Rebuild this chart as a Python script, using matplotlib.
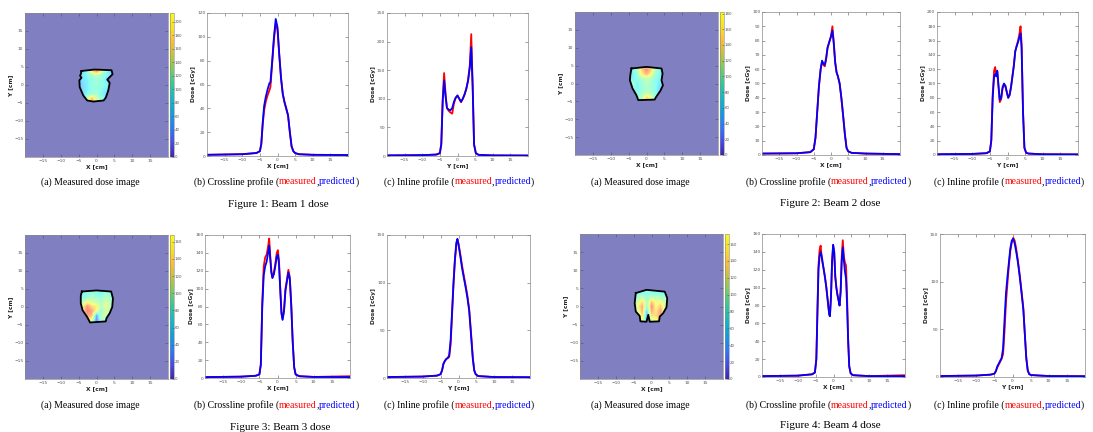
import numpy as np
import matplotlib
matplotlib.use("Agg")
import matplotlib.pyplot as plt
from matplotlib.colors import LinearSegmentedColormap, Normalize
from matplotlib.cm import ScalarMappable
from matplotlib.patches import Polygon

W, H = 1093, 432
RED = "#ff0000"; BLUE = "#0000ff"; BG = "#7f7fc2"; SPINE = "#8a8a8a"
XTICKS = [-15, -10, -5, 0, 5, 10, 15]

# ---- beam 1 -------------------------------------------------------------
B1_CROSS_X = [-20, -10, -6, -5, -4.6, -4.2, -3.8, -3.3, -2.8, -2.3, -2.0, -1.5, -1.0, -0.5, 0.0, 0.5, 1.0, 1.5, 2.0, 2.5, 3.0, 3.5, 4.0, 4.5, 5, 6, 10, 20]
B1_CROSS_PRED = [1, 1.5, 2.5, 4, 10, 28, 42, 50, 56, 61, 62, 80, 100, 115, 108, 85, 65, 52, 45, 40, 34, 20, 8, 4, 2.5, 1.5, 1, 0.8]
B1_CROSS_MEAS = [1, 1.5, 2.5, 4, 10, 26, 38, 46, 51, 55, 58, 78, 98, 111, 106, 85, 66, 52, 45, 39, 34, 20, 8, 4, 2.5, 1.5, 1, 0.8]
B1_IN_X = [-20, -10, -6, -5, -4.6, -4.2, -3.8, -3.4, -3.0, -2.5, -2.0, -1.5, -1.0, -0.5, 0.0, 0.5, 1.0, 1.5, 2.0, 2.5, 3.0, 3.5, 3.9, 4.3, 4.7, 5.2, 6, 10, 20]
B1_IN_PRED = [1, 1.5, 2.5, 5, 20, 95, 132, 105, 84, 81, 80, 84, 95, 102, 106, 100, 95, 100, 108, 118, 132, 155, 190, 120, 20, 5, 2, 1, 0.8]
B1_IN_MEAS = [1, 1.5, 2.5, 5, 22, 100, 145, 110, 84, 79, 76, 74, 92, 102, 105, 100, 94, 100, 107, 117, 132, 160, 213, 125, 20, 5, 2, 1, 0.8]
B1_FIELD_X = [-4.2, -0.5, 4.2, 4.5, 3.0, 3.7, 3.3, 2.6, 2.0, -0.9, -2.6, -3.7, -4.7, -4.8, -4.2, -4.6, -4.4]
B1_FIELD_Y = [3.9, 4.3, 4.1, 3.0, 1.5, 0.6, -1.5, -3.5, -4.3, -4.6, -4.3, -2.9, -0.6, 1.3, 2.0, 2.6, 3.0]
B1_DOSE = [[55, 60, 80, 150, 190, 150, 80, 60, 55],
           [55, 65, 85, 150, 185, 140, 85, 65, 55],
           [55, 70, 80, 95, 110, 95, 80, 70, 55],
           [50, 70, 75, 85, 90, 85, 75, 70, 55],
           [50, 65, 75, 85, 95, 85, 80, 70, 50],
           [50, 65, 75, 85, 90, 80, 75, 65, 50],
           [50, 65, 80, 90, 95, 80, 70, 60, 50],
           [50, 60, 110, 165, 120, 90, 70, 55, 50],
           [45, 60, 120, 175, 120, 90, 65, 55, 45]]
B1_VMAX = 213

# ---- beam 2 -------------------------------------------------------------
B2_CROSS_X = [-20, -10, -6, -5, -4.5, -4, -3.5, -3, -2.6, -2.2, -1.8, -1.4, -1.0, -0.5, 0.0, 0.4, 0.8, 1.2, 1.6, 2.0, 2.5, 3.0, 3.5, 4.0, 4.5, 5, 6, 10, 20]
B2_CROSS_PRED = [1, 1.2, 2, 4, 12, 30, 48, 60, 66, 64, 63, 68, 75, 79, 83, 87, 78, 65, 58, 55, 50, 40, 28, 15, 5, 2.5, 1.5, 1, 0.6]
B2_CROSS_MEAS = [1, 1.2, 2, 4, 12, 30, 48, 60, 65, 63, 62, 67, 75, 79, 83, 90, 79, 65, 58, 55, 50, 40, 28, 15, 5, 2.5, 1.5, 1, 0.6]
B2_IN_X = [-20, -10, -6, -5, -4.6, -4.2, -3.8, -3.5, -3.2, -2.9, -2.6, -2.2, -1.8, -1.4, -1.0, -0.6, -0.2, 0.2, 0.6, 1.0, 1.4, 1.8, 2.2, 2.6, 3.0, 3.4, 3.7, 4.0, 4.4, 4.8, 5.3, 6, 10, 20]
B2_IN_PRED = [1, 1.5, 2.5, 5, 20, 80, 110, 113, 110, 118, 100, 77, 80, 95, 100, 97, 88, 80, 84, 95, 110, 125, 145, 152, 158, 165, 170, 150, 60, 10, 3, 2, 1, 0.8]
B2_IN_MEAS = [1, 1.5, 2.5, 5, 20, 85, 118, 123, 112, 116, 98, 74, 78, 93, 98, 96, 88, 80, 84, 95, 110, 125, 145, 153, 160, 170, 180, 155, 62, 10, 3, 2, 1, 0.8]
B2_FIELD_X = [-4.2, 0.0, 4.2, 4.5, 4.2, 4.6, 3.9, 2.6, 2.3, -2.3, -2.8, -3.9, -4.65, -4.5]
B2_FIELD_Y = [4.2, 4.65, 4.2, 2.8, 0.9, -0.5, -2.0, -3.9, -4.5, -4.65, -3.3, -1.4, 0.9, 2.6]
B2_DOSE = [[55, 60, 75, 110, 135, 110, 75, 60, 55],
           [55, 65, 85, 135, 160, 135, 85, 65, 55],
           [55, 65, 80, 120, 140, 115, 80, 65, 55],
           [55, 65, 70, 85, 95, 85, 70, 65, 55],
           [60, 85, 65, 75, 90, 80, 70, 60, 55],
           [55, 70, 65, 75, 85, 80, 70, 55, 50],
           [50, 60, 70, 80, 90, 85, 70, 55, 50],
           [45, 55, 70, 90, 130, 110, 70, 55, 45],
           [45, 55, 70, 90, 140, 110, 65, 50, 45]]
B2_VMAX = 182

# ---- beam 3 -------------------------------------------------------------
B3_CROSS_X = [-20, -10, -6, -5, -4.6, -4.2, -3.8, -3.4, -3.0, -2.6, -2.3, -2.0, -1.7, -1.4, -1.0, -0.6, -0.2, 0.1, 0.4, 0.8, 1.1, 1.4, 1.8, 2.2, 2.6, 3.0, 3.4, 3.8, 4.2, 4.6, 5.0, 6, 10, 20]
B3_CROSS_PRED = [1, 1.5, 2.5, 4, 15, 80, 115, 125, 130, 140, 148, 133, 118, 112, 116, 125, 136, 138, 128, 95, 72, 65, 75, 98, 108, 118, 110, 80, 40, 12, 4, 2, 1.2, 1]
B3_CROSS_MEAS = [1, 1.5, 2.5, 4, 15, 85, 125, 135, 138, 147, 156, 137, 120, 112, 118, 128, 140, 143, 132, 97, 73, 66, 76, 100, 110, 121, 113, 82, 40, 12, 4, 2, 1.2, 2]
B3_IN_X = [-20, -10, -6, -5, -4.6, -4.2, -3.8, -3.4, -3.0, -2.6, -2.2, -1.8, -1.4, -1.0, -0.6, -0.3, 0.0, 0.5, 1.0, 1.5, 2.0, 2.5, 3.0, 3.5, 4.0, 4.4, 4.8, 5.5, 10, 20]
B3_IN_PRED = [1, 1.5, 2.5, 4, 8, 15, 18, 20, 21, 24, 40, 70, 100, 125, 142, 146, 140, 128, 115, 105, 95, 84, 70, 45, 20, 8, 4, 2, 1, 0.8]
B3_IN_MEAS = [1, 1.5, 2.5, 4, 8, 15, 18, 20, 21, 22, 35, 66, 98, 123, 140, 145, 141, 130, 118, 107, 97, 86, 72, 48, 22, 8, 4, 2, 1, 0.8]
B3_FIELD_X = [-4.1, 0.0, 4.1, 4.6, 4.4, 3.7, 2.8, 2.6, -1.8, -2.6, -3.9, -4.4, -4.4]
B3_FIELD_Y = [4.3, 4.6, 4.3, 2.4, 0.0, -1.7, -3.1, -4.0, -4.3, -2.8, -0.9, 1.1, 3.1]
B3_DOSE = [[55, 60, 65, 65, 60, 60, 65, 60, 55],
           [55, 60, 65, 70, 65, 60, 70, 65, 55],
           [55, 65, 75, 80, 75, 70, 85, 75, 55],
           [55, 85, 105, 95, 90, 75, 95, 85, 55],
           [55, 110, 145, 120, 115, 80, 100, 90, 55],
           [55, 120, 150, 140, 105, 70, 95, 85, 55],
           [55, 105, 140, 130, 35, 85, 90, 80, 55],
           [50, 85, 120, 100, 25, 80, 75, 65, 50],
           [45, 75, 100, 80, 25, 65, 65, 55, 45]]
B3_VMAX = 168

# ---- beam 4 -------------------------------------------------------------
B4_CROSS_X = [-20, -10, -6, -5.2, -4.8, -4.5, -4.2, -3.9, -3.6, -3.2, -2.8, -2.4, -2.0, -1.6, -1.2, -1.0, -0.7, -0.4, -0.1, 0.2, 0.5, 0.8, 1.1, 1.4, 1.7, 2.0, 2.3, 2.6, 2.9, 3.2, 3.5, 3.8, 4.1, 4.4, 4.8, 5.5, 10, 20]
B4_CROSS_PRED = [1, 1.5, 3, 5, 20, 70, 120, 135, 140, 133, 122, 112, 100, 85, 70, 68, 90, 130, 148, 140, 112, 100, 92, 86, 80, 95, 130, 145, 130, 118, 110, 80, 40, 12, 4, 2, 1, 1]
B4_CROSS_MEAS = [1, 1.5, 3, 5, 20, 75, 125, 142, 147, 130, 122, 112, 100, 85, 70, 68, 90, 128, 147, 140, 112, 100, 92, 86, 80, 97, 135, 153, 135, 128, 125, 90, 42, 12, 4, 2, 1, 2]
B4_IN_X = [-20, -10, -6, -5, -4.6, -4.2, -3.8, -3.4, -3.0, -2.6, -2.2, -1.8, -1.4, -1.0, -0.6, -0.2, 0.2, 0.6, 1.0, 1.5, 2.0, 2.5, 3.0, 3.4, 3.8, 4.2, 4.6, 5.2, 10, 20]
B4_IN_PRED = [1, 1.5, 2.5, 3.5, 6, 11, 14, 17, 20, 30, 60, 88, 105, 120, 135, 143, 145, 140, 132, 120, 105, 88, 70, 45, 20, 7, 3, 2, 1, 0.8]
B4_IN_MEAS = [1, 1.5, 2.5, 3.5, 6, 10, 13, 16, 19, 24, 48, 78, 98, 117, 132, 141, 146, 143, 135, 122, 107, 90, 72, 45, 20, 7, 3, 2, 1, 0.8]
B4_FIELD_X = [-4.4, -1.4, 3.7, 4.4, 4.2, 3.3, 2.3, 2.1, -0.5, -0.9, -1.4, -3.1, -3.3, -4.4, -4.7]
B4_FIELD_Y = [3.7, 4.6, 4.1, 2.3, -0.2, -1.8, -2.8, -4.1, -4.2, -2.3, -4.2, -4.1, -2.6, -1.4, 0.9]
B4_DOSE = [[55, 58, 58, 62, 62, 62, 58, 58, 55],
           [55, 62, 66, 66, 66, 66, 62, 62, 55],
           [55, 80, 90, 75, 85, 90, 80, 75, 55],
           [55, 100, 120, 80, 130, 105, 110, 90, 55],
           [55, 110, 140, 70, 150, 110, 130, 95, 55],
           [55, 100, 135, 50, 140, 115, 145, 100, 55],
           [50, 90, 120, 35, 120, 125, 145, 95, 50],
           [45, 80, 110, 35, 100, 105, 120, 80, 45],
           [45, 70, 95, 35, 90, 95, 100, 70, 45]]
B4_VMAX = 172

GRID_X = [-5, -3.75, -2.5, -1.25, 0, 1.25, 2.5, 3.75, 5]
GRID_Y = [5, 3.75, 2.5, 1.25, 0, -1.25, -2.5, -3.75, -5]   # dose rows run top -> bottom

PARULA = LinearSegmentedColormap.from_list("parula", [
    (0.24, 0.15, 0.66), (0.28, 0.30, 0.93), (0.17, 0.48, 0.99), (0.05, 0.62, 0.88),
    (0.07, 0.72, 0.78), (0.20, 0.78, 0.60), (0.45, 0.80, 0.40), (0.75, 0.76, 0.25),
    (0.98, 0.74, 0.22), (0.97, 0.88, 0.15), (0.98, 0.98, 0.08)])
# jet drawn at half opacity over white
_jet = plt.get_cmap("jet")(np.linspace(0, 1, 256))
_jet[:, :3] = 0.5 * _jet[:, :3] + 0.5
JET_LIGHT = LinearSegmentedColormap.from_list("jet_light", _jet)

plt.rcParams.update({"font.family": "DejaVu Sans", "axes.linewidth": 0.5})
fig = plt.figure(figsize=(W / 100, H / 100), dpi=100)


def box(l, r, t, b):
    return [l / W, 1 - b / H, (r - l) / W, (b - t) / H]


def style(ax, xlabel, ylabel):
    ax.tick_params(direction="in", length=2, width=0.4, labelsize=3.2, colors="#555555",
                   top=True, right=True, pad=1.2)
    for s in ax.spines.values():
        s.set_color(SPINE); s.set_linewidth(0.5)
    ax.set_xlabel(xlabel, fontsize=4.2, fontweight="bold", labelpad=0.8, color="#222222")
    ax.set_ylabel(ylabel, fontsize=4.2, fontweight="bold", labelpad=1.0, color="#222222")


def dose_image(rect, cbrect, dose, fx, fy, vmax):
    ax = fig.add_axes(box(*rect))
    ax.set_facecolor(BG)
    field = Polygon(np.column_stack([fx, fy]), closed=True, fc="none", ec="none")
    ax.add_patch(field)
    dx = (GRID_X[1] - GRID_X[0]) / 2
    dy = (GRID_Y[0] - GRID_Y[1]) / 2
    im = ax.imshow(np.array(dose, float), cmap=JET_LIGHT, vmin=0, vmax=vmax,
                   interpolation="bilinear", origin="upper",
                   extent=[GRID_X[0] - dx, GRID_X[-1] + dx, GRID_Y[-1] - dy, GRID_Y[0] + dy])
    im.set_clip_path(field)
    ax.plot(list(fx) + [fx[0]], list(fy) + [fy[0]], color="black", lw=1.3)
    ax.set_xlim(-20, 20); ax.set_ylim(-20, 20)
    ax.set_aspect("auto")
    ax.set_xticks(XTICKS); ax.set_yticks(XTICKS)
    style(ax, "X [cm]", "Y [cm]")
    cax = fig.add_axes(box(*cbrect))
    cb = fig.colorbar(ScalarMappable(Normalize(0, vmax), PARULA), cax=cax)
    cb.set_ticks(np.arange(0, vmax, 20))
    cb.outline.set_linewidth(0.4); cb.outline.set_edgecolor(SPINE)
    cax.tick_params(direction="in", length=1.5, width=0.4, labelsize=2.8, colors="#555555", pad=1)


def profile(rect, x, meas, pred, ymax, ystep, xlabel):
    ax = fig.add_axes(box(*rect))
    ax.plot(x, meas, color=RED, lw=1.3)
    ax.plot(x, pred, color=BLUE, lw=1.3)
    ax.set_xlim(-20, 20); ax.set_ylim(0, ymax)
    ax.set_xticks(XTICKS); ax.set_yticks(np.arange(0, ymax + 1, ystep))
    style(ax, xlabel, "Dose [cGy]")


def caption(xc, y, parts, size=7):
    r = fig.canvas.get_renderer()
    texts = [fig.text(0, 1 - y / H, s, color=c, fontsize=size, family="Liberation Serif",
                      va="center", ha="left") for s, c in parts]
    widths = [t.get_window_extent(r).width for t in texts]
    x = xc - sum(widths) / 2
    for t, w in zip(texts, widths):
        t.set_x(x / W); x += w


def sub_captions(y, xa, xb, xc):
    caption(xa, y, [("(a) Measured dose image", "black")])
    caption(xb, y, [("(b) Crossline profile (", "black"), ("measured", RED), (",", "black"),
                    ("predicted", BLUE), (")", "black")])
    caption(xc, y, [("(c) Inline profile (", "black"), ("measured", RED), (",", "black"),
                    ("predicted", BLUE), (")", "black")])


# Figure 1
dose_image((25, 168, 13, 157), (170, 173.5, 13, 157), B1_DOSE, B1_FIELD_X, B1_FIELD_Y, B1_VMAX)
profile((207, 348, 13, 156), B1_CROSS_X, B1_CROSS_MEAS, B1_CROSS_PRED, 120, 20, "X [cm]")
profile((387, 528, 13, 156), B1_IN_X, B1_IN_MEAS, B1_IN_PRED, 250, 50, "Y [cm]")
sub_captions(182, 90, 276, 459)
caption(278, 205, [("Figure 1: Beam 1 dose", "black")], 8)

# Figure 2
dose_image((575, 718, 12, 155), (720, 723.5, 12, 155), B2_DOSE, B2_FIELD_X, B2_FIELD_Y, B2_VMAX)
profile((762, 900, 12, 155), B2_CROSS_X, B2_CROSS_MEAS, B2_CROSS_PRED, 100, 10, "X [cm]")
profile((937, 1078, 12, 155), B2_IN_X, B2_IN_MEAS, B2_IN_PRED, 200, 20, "Y [cm]")
sub_captions(182, 640, 828, 1009)
caption(830, 204, [("Figure 2: Beam 2 dose", "black")], 8)

# Figure 3
dose_image((25, 168, 235, 379), (170, 173.5, 235, 379), B3_DOSE, B3_FIELD_X, B3_FIELD_Y, B3_VMAX)
profile((205, 350, 235, 378), B3_CROSS_X, B3_CROSS_MEAS, B3_CROSS_PRED, 160, 20, "X [cm]")
profile((387, 530, 235, 378), B3_IN_X, B3_IN_MEAS, B3_IN_PRED, 150, 50, "Y [cm]")
sub_captions(405, 90, 276, 459)
caption(280, 427, [("Figure 3: Beam 3 dose", "black")], 8)

# Figure 4
dose_image((580, 723, 234, 379), (725, 728.5, 234, 379), B4_DOSE, B4_FIELD_X, B4_FIELD_Y, B4_VMAX)
profile((762, 905, 234, 377), B4_CROSS_X, B4_CROSS_MEAS, B4_CROSS_PRED, 160, 20, "X [cm]")
profile((940, 1085, 234, 377), B4_IN_X, B4_IN_MEAS, B4_IN_PRED, 150, 50, "Y [cm]")
sub_captions(405, 640, 828, 1009)
caption(830, 425, [("Figure 4: Beam 4 dose", "black")], 8)

fig.savefig("out.png", dpi=100, facecolor="white")
